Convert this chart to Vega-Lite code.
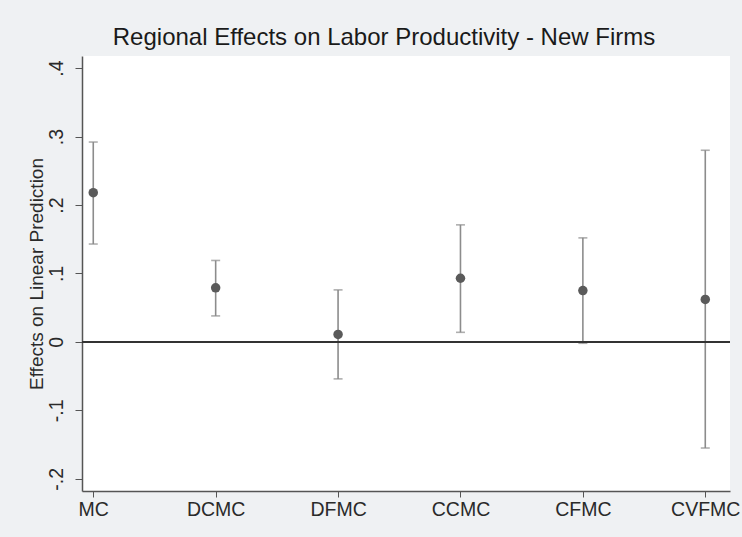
{
  "$schema": "https://vega.github.io/schema/vega-lite/v6.json",
  "autosize": {"type": "none"},
  "padding": {"left": 82, "top": 56, "right": 12, "bottom": 46},
  "width": 648,
  "height": 435,
  "background": "#eff1f3",
  "title": {
    "text": "Regional Effects on Labor Productivity - New Firms",
    "font": "Liberation Sans",
    "fontSize": 24,
    "fontWeight": "normal",
    "color": "#1a1a1a",
    "anchor": "middle",
    "dx": -22,
    "offset": 6
  },
  "config": {
    "view": {"fill": "white", "stroke": null},
    "axis": {
      "labelFont": "Liberation Sans",
      "titleFont": "Liberation Sans",
      "labelColor": "#2a2a2a",
      "titleColor": "#2a2a2a",
      "domainColor": "#555555",
      "tickColor": "#555555",
      "grid": false
    }
  },
  "data": {
    "values": [
      {"idx": 1, "region": "MC", "est": 0.218, "lo": 0.143, "hi": 0.292},
      {"idx": 2, "region": "DCMC", "est": 0.079, "lo": 0.038, "hi": 0.119},
      {"idx": 3, "region": "DFMC", "est": 0.011, "lo": -0.054, "hi": 0.076},
      {"idx": 4, "region": "CCMC", "est": 0.093, "lo": 0.014, "hi": 0.171},
      {"idx": 5, "region": "CFMC", "est": 0.075, "lo": -0.002, "hi": 0.152},
      {"idx": 6, "region": "CVFMC", "est": 0.062, "lo": -0.155, "hi": 0.280}
    ]
  },
  "encoding": {
    "x": {
      "field": "idx",
      "type": "quantitative",
      "scale": {"domain": [0.908, 6.202], "nice": false, "zero": false},
      "axis": {
        "title": null,
        "values": [1, 2, 3, 4, 5, 6],
        "labelExpr": "['MC','DCMC','DFMC','CCMC','CFMC','CVFMC'][datum.value - 1]",
        "labelFontSize": 19.5,
        "labelPadding": 3,
        "tickSize": 6,
        "domainWidth": 1.5,
        "labelFlush": false
      }
    }
  },
  "layer": [
    {
      "mark": {"type": "rule", "color": "#8c8c8c", "strokeWidth": 1.6},
      "encoding": {
        "y": {
          "field": "lo",
          "type": "quantitative",
          "scale": {"domain": [-0.2178, 0.4177], "nice": false, "zero": false},
          "axis": {
            "title": "Effects on Linear Prediction",
            "titleFontSize": 19,
            "titleFontWeight": "normal",
            "titlePadding": 0,
            "values": [-0.2, -0.1, 0, 0.1, 0.2, 0.3, 0.4],
            "labelExpr": "datum.value == 0 ? '0' : (datum.value < 0 ? '-' : '') + '.' + toString(round(abs(datum.value) * 10))",
            "labelAngle": 270,
            "labelFontSize": 19.5,
            "labelPadding": 9,
            "tickSize": 7,
            "domainWidth": 1.5
          }
        },
        "y2": {"field": "hi"}
      }
    },
    {
      "mark": {"type": "tick", "orient": "horizontal", "color": "#8c8c8c", "size": 9, "thickness": 1.6},
      "encoding": {"y": {"field": "lo", "type": "quantitative"}}
    },
    {
      "mark": {"type": "tick", "orient": "horizontal", "color": "#8c8c8c", "size": 9, "thickness": 1.6},
      "encoding": {"y": {"field": "hi", "type": "quantitative"}}
    },
    {
      "mark": {"type": "rule", "color": "#333333", "strokeWidth": 2},
      "encoding": {"y": {"datum": 0}, "x": {"value": 0}, "x2": {"value": 648}}
    },
    {
      "mark": {"type": "point", "filled": true, "color": "#5a5a5a", "opacity": 1, "size": 90},
      "encoding": {"y": {"field": "est", "type": "quantitative"}}
    }
  ]
}
